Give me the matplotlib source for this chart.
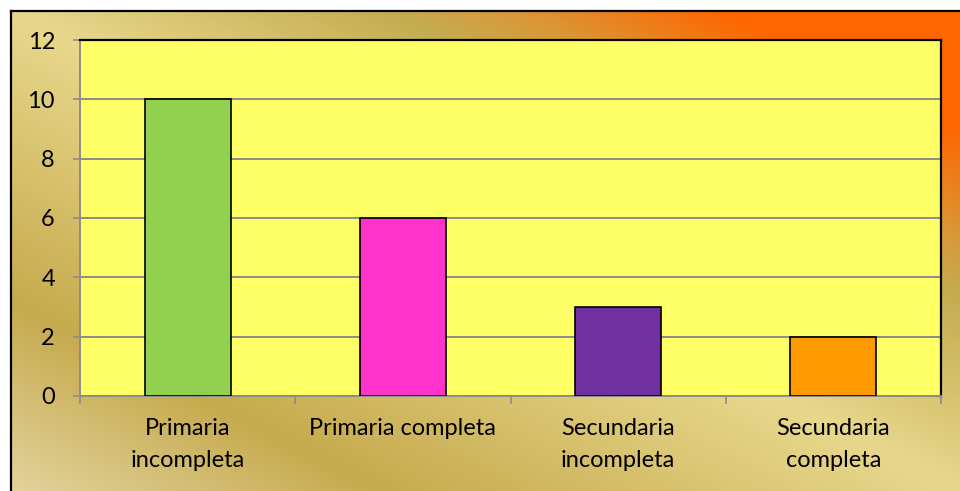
import numpy as np
import matplotlib
matplotlib.use("Agg")
import matplotlib.pyplot as plt
from matplotlib.colors import to_rgb

categories = ["Primaria\nincompleta", "Primaria completa", "Secundaria\nincompleta", "Secundaria\ncompleta"]
values = [10, 6, 3, 2]
bar_colors = ["#92D050", "#FF33CC", "#7030A0", "#FF9900"]
y_ticks = [0, 2, 4, 6, 8, 10, 12]

plt.rcParams['font.family'] = ['Lato', 'DejaVu Sans']

W, H = 960, 491
fig = plt.figure(figsize=(W / 100, H / 100), dpi=100)

# background with diagonal gradient
bg = fig.add_axes([0, 0, 1, 1])
bg.set_xlim(0, W)
bg.set_ylim(H, 0)
bg.axis('off')
x0, y0 = 11, 11
xs = np.linspace(0, 1, 400)
ys = np.linspace(0, 1, 240)
U, V = np.meshgrid(xs, ys)
T = U + (1 - V)
stops = [0.0, 0.39, 1.0, 1.40, 1.52, 1.75, 2.0]
cols = ["#E2D39C", "#C6AA4E", "#E8D88C", "#C4AC50", "#D89A3A", "#FF6600", "#FF6600"]
rgb = np.array([to_rgb(c) for c in cols])
img = np.zeros(T.shape + (3,))
for k in range(3):
    img[..., k] = np.interp(T, stops, rgb[:, k])
bg.imshow(img, extent=(x0, W, H, y0), aspect='auto', interpolation='bilinear', zorder=0)
bg.plot([x0, x0], [H + 5, y0], color='black', lw=1.6, zorder=2, solid_capstyle='projecting')
bg.plot([x0, W + 5], [y0, y0], color='black', lw=1.6, zorder=2, solid_capstyle='projecting')

# main plot area
left, right, top, bottom = 80, 941, 40, 396
ax = fig.add_axes([left / W, (H - bottom) / H, (right - left) / W, (bottom - top) / H])
ax.set_facecolor("#FFFF66")
x = np.arange(len(categories))
ax.bar(x, values, width=0.4, color=bar_colors, edgecolor='black', linewidth=1.2, zorder=3)
ax.set_xlim(-0.5, len(categories) - 0.5)
ax.set_ylim(0, 12)
ax.set_yticks(y_ticks)
ax.set_yticklabels([str(v) for v in y_ticks])
ax.yaxis.grid(True, color='#8C8C8C', linewidth=1.4, zorder=1)
ax.set_axisbelow(True)
ax.set_xticks(x)
ax.set_xticklabels(categories, linespacing=1.65)
ax.set_xticks(np.arange(len(categories) + 1) - 0.5, minor=True)
ax.tick_params(axis='x', which='major', length=0, pad=16, labelsize=17)
ax.tick_params(axis='x', which='minor', length=6, width=1.2, color='#8C8C8C', direction='out')
ax.tick_params(axis='y', length=5, width=1.2, color='#8C8C8C', pad=13, labelsize=17)
for s in ['top', 'right']:
    ax.spines[s].set_color('black')
    ax.spines[s].set_linewidth(1.6)
for s in ['left', 'bottom']:
    ax.spines[s].set_color('#8C8C8C')
    ax.spines[s].set_linewidth(1.4)

fig.savefig("out.png", dpi=100)
